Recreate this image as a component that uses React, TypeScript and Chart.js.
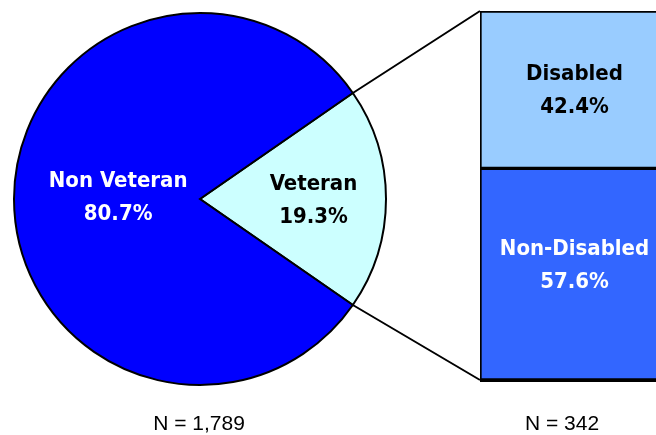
import React, { useEffect, useRef } from "react";
import { Chart, registerables } from "chart.js";

Chart.register(...registerables);

// ---- data ----
const pieLabels = ["Veteran", "Non Veteran"];
const pieValues = [19.3, 80.7];
const pieColors = ["#CCFFFF", "#0000FF"];
const pieTextColors = ["#000000", "#FFFFFF"];
const pieN = "N = 1,789";

const barCategories = ["Veteran"];
const barSeriesLabels = ["Non-Disabled", "Disabled"];
const barSeriesValues = [57.6, 42.4];
const barColors = ["#3366FF", "#99CCFF"];
const barTextColors = ["#FFFFFF", "#000000"];
const barN = "N = 342";

const LABEL_FONT = "bold 22px 'DejaVu Sans Condensed', 'DejaVu Sans', sans-serif";

export default function App() {
  const pieRef = useRef<HTMLCanvasElement | null>(null);
  const barRef = useRef<HTMLCanvasElement | null>(null);

  useEffect(() => {
    if (!pieRef.current || !barRef.current) return;

    const vetShare = pieValues[0] / pieValues.reduce((a, b) => a + b, 0);
    const rotation = 90 - (360 * vetShare) / 2;

    const pieLabelPlugin = {
      id: "pieLabels",
      afterDatasetsDraw(chart: any) {
        const ctx = chart.ctx;
        const meta = chart.getDatasetMeta(0);
        ctx.save();
        ctx.font = LABEL_FONT;
        ctx.textAlign = "center";
        ctx.textBaseline = "middle";
        meta.data.forEach((arc: any, i: number) => {
          const mid = (arc.startAngle + arc.endAngle) / 2;
          const frac = i === 0 ? 0.61 : 0.44;
          const x = arc.x + Math.cos(mid) * arc.outerRadius * frac;
          const y = arc.y + Math.sin(mid) * arc.outerRadius * frac + (i === 0 ? 1.5 : -2);
          ctx.fillStyle = pieTextColors[i];
          ctx.fillText(pieLabels[i], x, y - 16);
          ctx.fillText(pieValues[i].toFixed(1) + "%", x, y + 17);
        });
        ctx.restore();
      },
    };

    const pie = new Chart(pieRef.current, {
      type: "pie",
      data: {
        labels: pieLabels,
        datasets: [
          {
            data: pieValues,
            backgroundColor: pieColors,
            borderColor: "#000000",
            borderWidth: 2,
            borderJoinStyle: "miter",
          } as any,
        ],
      },
      options: {
        animation: false,
        responsive: false,
        rotation,
        radius: 186,
        layout: { padding: { left: 0, top: 0, right: 256, bottom: 37 } },
        plugins: { legend: { display: false }, tooltip: { enabled: false } },
      } as any,
      plugins: [pieLabelPlugin],
    });

    const connectorPlugin = {
      id: "connectors",
      afterDatasetsDraw(chart: any) {
        const ctx = chart.ctx;
        const arc: any = pie.getDatasetMeta(0).data[0];
        const topBar: any = chart.getDatasetMeta(1).data[0];
        const botBar: any = chart.getDatasetMeta(0).data[0];
        const left = topBar.x - topBar.width / 2;
        const p1 = {
          x: arc.x + Math.cos(arc.startAngle) * arc.outerRadius,
          y: arc.y + Math.sin(arc.startAngle) * arc.outerRadius,
        };
        const p2 = {
          x: arc.x + Math.cos(arc.endAngle) * arc.outerRadius,
          y: arc.y + Math.sin(arc.endAngle) * arc.outerRadius,
        };
        ctx.save();
        ctx.strokeStyle = "#000000";
        ctx.lineWidth = 2;
        ctx.beginPath();
        ctx.moveTo(p1.x, p1.y);
        ctx.lineTo(left, topBar.y);
        ctx.moveTo(p2.x, p2.y);
        ctx.lineTo(left, botBar.base - 2);
        ctx.stroke();
        // labels
        ctx.font = LABEL_FONT;
        ctx.textAlign = "center";
        ctx.textBaseline = "middle";
        [0, 1].forEach((d) => {
          const el: any = chart.getDatasetMeta(d).data[0];
          const cy = (el.y + el.base) / 2 + (d === 1 ? 0.5 : -9.5);
          ctx.fillStyle = barTextColors[d];
          ctx.fillText(barSeriesLabels[d], el.x, cy - 16);
          ctx.fillText(barSeriesValues[d].toFixed(1) + "%", el.x, cy + 17);
        });
        ctx.restore();
      },
    };

    const bar = new Chart(barRef.current, {
      type: "bar",
      data: {
        labels: barCategories,
        datasets: barSeriesLabels.map((lab, i) => ({
          label: lab,
          data: [barSeriesValues[i]],
          backgroundColor: barColors[i],
          borderColor: "#000000",
          borderWidth: i === 0 ? { top: 2, left: 2, right: 2, bottom: 4 } : 2,
          borderSkipped: false,
          barPercentage: 1,
          categoryPercentage: 1,
        })) as any,
      },
      options: {
        animation: false,
        responsive: false,
        layout: { padding: { left: 480, top: 11, right: 31, bottom: 53 } },
        scales: {
          x: { stacked: true, display: false },
          y: { stacked: true, display: false, min: 0, max: 100 },
        },
        plugins: { legend: { display: false }, tooltip: { enabled: false } },
      } as any,
      plugins: [connectorPlugin],
    });

    return () => {
      bar.destroy();
      pie.destroy();
    };
  }, []);

  const nStyle: React.CSSProperties = {
    position: "absolute",
    top: 408,
    fontFamily: "'Liberation Sans', Arial, sans-serif",
    fontSize: 21,
    color: "#000",
    whiteSpace: "nowrap",
    transform: "translateX(-50%)",
    lineHeight: "30px",
  };

  return (
    <div
      style={{
        position: "fixed",
        left: 0,
        top: 0,
        width: 656,
        height: 435,
        overflow: "hidden",
        background: "#fff",
      }}
    >
      <canvas ref={pieRef} width={656} height={435} style={{ position: "absolute", left: 0, top: 0 }} />
      <canvas ref={barRef} width={700} height={435} style={{ position: "absolute", left: 0, top: 0 }} />
      <div style={{ ...nStyle, left: 199 }}>{pieN}</div>
      <div style={{ ...nStyle, left: 562 }}>{barN}</div>
    </div>
  );
}
